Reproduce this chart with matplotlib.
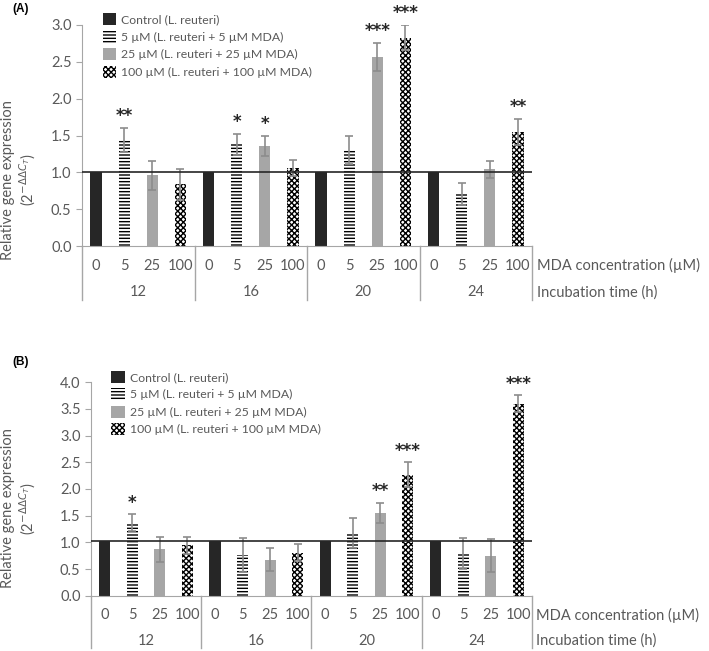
import matplotlib
matplotlib.use('Agg')
import matplotlib.pyplot as plt
import numpy as np

plt.rcParams['font.family'] = ['Lato', 'DejaVu Sans']
plt.rcParams['hatch.linewidth'] = 1.0
plt.rcParams['mathtext.fontset'] = 'dejavusans'

GREY_TXT = '#595959'
GREY_LN = '#a6a6a6'

times = ['12', '16', '20', '24']
conc = ['0', '5', '25', '100']
labels = ['Control (L. reuteri)', '5 µM (L. reuteri + 5 µM MDA)',
          '25 µM (L. reuteri + 25 µM MDA)', '100 µM (L. reuteri + 100 µM MDA)']

# panel A: rows = incubation time, cols = MDA concentration
mean_a = [[1.0, 1.44, 0.96, 0.84],
          [1.0, 1.38, 1.36, 1.06],
          [1.0, 1.31, 2.57, 2.83],
          [1.0, 0.71, 1.04, 1.55]]
err_a = [[0, 0.16, 0.20, 0.21],
         [0, 0.14, 0.14, 0.11],
         [0, 0.19, 0.19, 0.17],
         [0, 0.15, 0.12, 0.18]]
stars_a = [['', '**', '', ''],
           ['', '*', '*', ''],
           ['', '', '***', '***'],
           ['', '', '', '**']]

# panel B
mean_b = [[1.03, 1.37, 0.87, 0.95],
          [1.03, 0.76, 0.68, 0.81],
          [1.03, 1.17, 1.55, 2.27],
          [1.03, 0.80, 0.75, 3.59]]
err_b = [[0, 0.16, 0.23, 0.16],
         [0, 0.32, 0.22, 0.16],
         [0, 0.28, 0.19, 0.23],
         [0, 0.29, 0.31, 0.16]]
stars_b = [['', '*', '', ''],
           ['', '', '', ''],
           ['', '', '**', '***'],
           ['', '', '', '***']]

styles = [dict(color='#262626'),
          dict(color='white', edgecolor='black', hatch='-----', linewidth=0),
          dict(color='#a6a6a6'),
          dict(color='white', edgecolor='black', hatch='xxxxxx', linewidth=0)]

fig = plt.figure(figsize=(7.09, 6.51), dpi=100)


def panel(ax, mean, err, stars, ymax, ref, tag, ylab_xy):
    mean = np.array(mean)
    err = np.array(err)
    for j in range(4):
        x = np.arange(4) * 4 + j
        ax.bar(x, mean[:, j], width=0.4, label=labels[j], zorder=2, **styles[j])
        e = err[:, j]
        m = e > 0
        ax.errorbar(x[m], mean[m, j], yerr=e[m], fmt='none', ecolor='#8c8c8c',
                    elinewidth=1.2, capsize=3, capthick=1.2, zorder=3)
        for g in range(4):
            if stars[g][j]:
                ax.text(x[g], mean[g, j] + err[g, j] + ymax * 0.012, stars[g][j],
                        ha='center', va='bottom', fontsize=12, fontweight='bold',
                        color='#262626', family='DejaVu Sans')
    ax.axhline(ref, color='#262626', lw=1.2, zorder=4)
    ax.set_xlim(-0.5, 15.5)
    ax.set_ylim(0, ymax)
    ticks = np.arange(0, ymax + 0.01, 0.5)
    ax.set_yticks(ticks)
    ax.set_yticklabels([f'{v:.1f}' for v in ticks])
    ax.set_xticks([])
    for s in ['top', 'right']:
        ax.spines[s].set_visible(False)
    for s in ['left', 'bottom']:
        ax.spines[s].set_color(GREY_LN)
    ax.tick_params(axis='y', colors=GREY_TXT, labelsize=10.5, length=4, color=GREY_LN)
    ax.set_ylabel('Relative gene expression\n' + r'(2$^{-\Delta\Delta C_T}$)',
                  color=GREY_TXT, fontsize=10.5, linespacing=1.15)
    ax.yaxis.set_label_coords(*ylab_xy)

    tr = ax.get_xaxis_transform()
    for k in range(5):
        ax.plot([k * 4 - 0.5] * 2, [0, -0.245], transform=tr, clip_on=False,
                color=GREY_LN, lw=1)
    for g in range(4):
        for j in range(4):
            ax.text(g * 4 + j, -0.09, conc[j], transform=tr, ha='center',
                    va='center', fontsize=10.5, color=GREY_TXT)
        ax.text(g * 4 + 1.5, -0.21, times[g], transform=tr, ha='center',
                va='center', fontsize=10.5, color=GREY_TXT)
    ax.text(1.01, -0.09, 'MDA concentration (µM)', transform=ax.transAxes,
            ha='left', va='center', fontsize=10.5, color=GREY_TXT)
    ax.text(1.01, -0.21, 'Incubation time (h)', transform=ax.transAxes,
            ha='left', va='center', fontsize=10.5, color=GREY_TXT)

    leg = ax.legend(loc='upper left', bbox_to_anchor=(0.035, 1.075), frameon=False,
                    handlelength=1.1, handleheight=1.1, handletextpad=0.4,
                    labelspacing=0.45, fontsize=8.8, borderaxespad=0)
    for t in leg.get_texts():
        t.set_color(GREY_TXT)
    fig.text(0.018, tag[1], tag[0], fontsize=8.5, fontweight='bold',
             ha='left', va='center', family='Liberation Sans')


ax_a = fig.add_axes([0.1157, 0.6221, 0.6347, 0.3395])
panel(ax_a, mean_a, err_a, stars_a, 3.0, 1.0, ('(A)', 0.986), (-0.098, 0.30))

ax_b = fig.add_axes([0.1283, 0.0845, 0.6220, 0.3287])
panel(ax_b, mean_b, err_b, stars_b, 4.0, 1.03, ('(B)', 0.444), (-0.12, 0.41))

fig.savefig('out.png', dpi=100)
